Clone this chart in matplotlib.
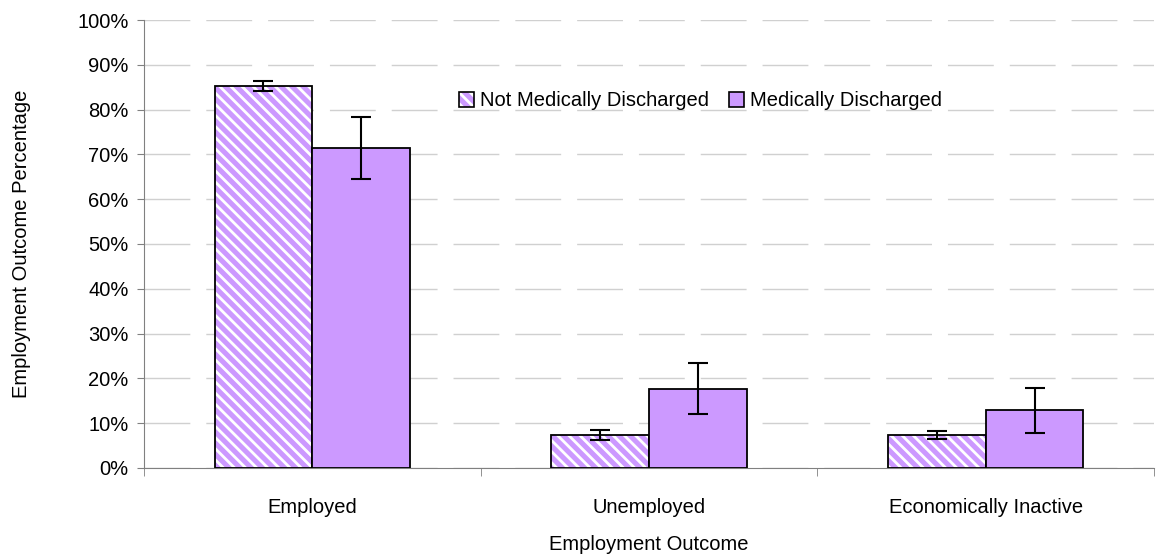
import numpy as np
import matplotlib
matplotlib.use('Agg')
import matplotlib.pyplot as plt
from matplotlib.patches import Patch
from matplotlib.legend_handler import HandlerTuple
from matplotlib.ticker import PercentFormatter

plt.rcParams['font.family'] = ['Liberation Sans', 'DejaVu Sans']
plt.rcParams['hatch.linewidth'] = 2.0

# 数据
categories = ['Employed', 'Unemployed', 'Economically Inactive']
not_discharged = [85.3, 7.4, 7.3]
not_discharged_err = [1.2, 1.1, 0.9]
discharged = [71.4, 17.7, 12.9]
discharged_err = [6.9, 5.7, 5.0]
series_names = ['Not Medically Discharged', 'Medically Discharged']

purple = '#CC99FF'
fs = 14.5

fig = plt.figure(figsize=(11.59, 5.57), dpi=100)
ax = fig.add_axes([0.1242, 0.16, 0.8716, 0.804])

x = np.arange(len(categories))
w = 0.29

# 斜线填充柱：先画底色+白色斜线，再画黑色边框
ax.bar(x - w / 2, not_discharged, w, color=purple, edgecolor='white',
       hatch='\\\\\\', linewidth=0, zorder=2)
ax.bar(x - w / 2, not_discharged, w, fill=False, edgecolor='black',
       linewidth=1.3, zorder=3)
ax.bar(x + w / 2, discharged, w, color=purple, edgecolor='black',
       linewidth=1.3, zorder=3)

ax.errorbar(x - w / 2, not_discharged, yerr=not_discharged_err, fmt='none',
            ecolor='black', elinewidth=1.5, capsize=7, capthick=1.5, zorder=4)
ax.errorbar(x + w / 2, discharged, yerr=discharged_err, fmt='none',
            ecolor='black', elinewidth=1.5, capsize=7, capthick=1.5, zorder=4)

ax.set_xlim(-0.5, len(categories) - 0.5)
ax.set_ylim(0, 100)
ax.set_yticks(np.arange(0, 101, 10))
ax.yaxis.set_major_formatter(PercentFormatter(decimals=0))
ax.grid(axis='y', color='#D0D0D0', linestyle=(0, (33, 11.5)), linewidth=1, zorder=0)

ax.set_xticks(x)
ax.set_xticklabels(categories)
ax.set_xticks(np.arange(-0.5, len(categories), 1), minor=True)
ax.tick_params(axis='x', which='major', length=0, pad=22)
ax.tick_params(axis='x', which='minor', length=6, color='#808080')
ax.tick_params(axis='y', length=5, color='#808080', pad=6)
ax.tick_params(labelsize=fs)

for s in ['top', 'right']:
    ax.spines[s].set_visible(False)
for s in ['left', 'bottom']:
    ax.spines[s].set_color('#808080')

ax.set_xlabel('Employment Outcome', fontsize=fs, labelpad=13)
ax.set_ylabel('Employment Outcome Percentage', fontsize=fs, labelpad=33)

# 图例：斜线方块叠加黑边
h1 = (Patch(facecolor=purple, edgecolor='white', hatch='\\\\\\', linewidth=0),
      Patch(facecolor='none', edgecolor='black', linewidth=1.2))
h2 = Patch(facecolor=purple, edgecolor='black', linewidth=1.2)
ax.legend([h1, h2], series_names, loc='center', bbox_to_anchor=(0.551, 0.82),
          ncol=2, frameon=False, fontsize=fs, handlelength=0.75,
          handleheight=0.75, handletextpad=0.3, columnspacing=1.0,
          handler_map={tuple: HandlerTuple(ndivide=1)})

fig.savefig('out.png', dpi=100)
